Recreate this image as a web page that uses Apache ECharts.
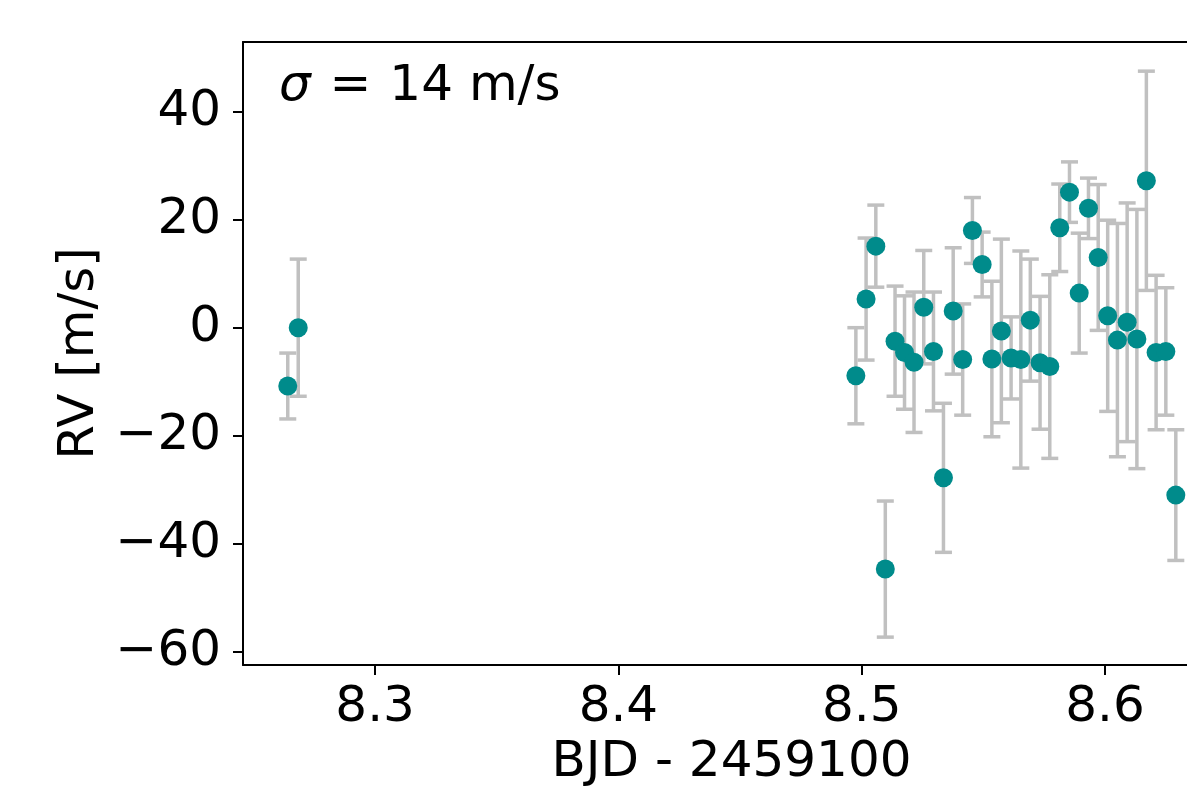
<!DOCTYPE html>
<html>
<head>
<meta charset="utf-8">
<script src="https://cdn.jsdelivr.net/npm/echarts@6/dist/echarts.min.js"></script>
<style>
html,body{margin:0;padding:0;background:#fff;}
#chart{width:1187px;height:800px;}
</style>
</head>
<body>
<div id="chart"></div>
<script>
// Data
var bjd = [8.2641, 8.2684, 8.4976, 8.5018, 8.5058, 8.5097, 8.5137, 8.5176, 8.5215, 8.5255,
           8.5295, 8.5336, 8.5376, 8.5415, 8.5455, 8.5495, 8.5535, 8.5574, 8.5614, 8.5654,
           8.5693, 8.5733, 8.5773, 8.5814, 8.5854, 8.5894, 8.5932, 8.5972, 8.6011, 8.6051,
           8.6091, 8.6131, 8.6170, 8.6210, 8.6250, 8.6291];
var rv = [-10.8, 0.0, -8.9, 5.3, 15.1, -44.7, -2.5, -4.6, -6.4, 3.8,
          -4.4, -27.8, 3.1, -5.9, 18.0, 11.7, -5.8, -0.6, -5.6, -5.9,
          1.4, -6.5, -7.2, 18.5, 25.1, 6.4, 22.1, 13.0, 2.2, -2.3,
          1.0, -2.1, 27.2, -4.6, -4.4, -31.0];
var rvErr = [6.1, 12.7, 8.9, 11.3, 7.6, 12.6, 10.2, 10.5, 13.0, 10.5,
             11.0, 13.8, 11.7, 10.3, 6.1, 6.0, 14.4, 17.0, 7.6, 20.1,
             11.3, 12.3, 17.0, 8.1, 5.6, 11.1, 5.6, 13.5, 17.7, 21.6,
             22.1, 24.0, 20.3, 14.3, 11.8, 12.1];
var xTicks = [8.3, 8.4, 8.5, 8.6];
var yTicks = [-60, -40, -20, 0, 20, 40];
var xLabel = 'BJD - 2459100';
var yLabel = 'RV [m/s]';
var sigmaValue = 14;

var pts = bjd.map(function (x, i) { return [x, rv[i]]; });
var errs = bjd.map(function (x, i) { return [x, rv[i] - rvErr[i], rv[i] + rvErr[i]]; });

var FONT = 'DejaVu Sans';
var chart = echarts.init(document.getElementById('chart'), null, {renderer: 'canvas'});

function fmtNum(v) {
  return String(v).replace('-', '\u2212');
}

var XMIN = 8.2457, XMAX = 8.6337;

var option = {
  backgroundColor: '#ffffff',
  animation: false,
  grid: {
    left: 243, top: 42, right: 0, bottom: 135,
    show: false
  },
  xAxis: [{
    type: 'value', min: XMIN, max: XMAX,
    name: xLabel, nameLocation: 'middle', nameGap: 72,
    nameTextStyle: {fontFamily: FONT, fontSize: 50, color: '#000', padding: [0, 0, 0, 33]},
    axisLine: {show: true, onZero: false, lineStyle: {color: '#000', width: 2}},
    axisTick: {show: true, inside: false, length: 10, lineStyle: {color: '#000', width: 2}, customValues: xTicks},
    axisLabel: {show: true, margin: 18, fontFamily: FONT, fontSize: 50, color: '#000', customValues: xTicks,
      formatter: function (v) { return v.toFixed(1); }},
    splitLine: {show: false}
  }, {
    type: 'value', position: 'top', min: XMIN, max: XMAX,
    axisLine: {show: true, onZero: false, lineStyle: {color: '#000', width: 2}},
    axisTick: {show: false}, axisLabel: {show: false}, splitLine: {show: false}
  }],
  yAxis: {
    type: 'value', min: -62.46, max: 52.9,
    name: yLabel, nameLocation: 'middle', nameGap: 138, nameRotate: 90,
    nameTextStyle: {fontFamily: FONT, fontSize: 50, color: '#000'},
    axisLine: {show: true, onZero: false, lineStyle: {color: '#000', width: 2}},
    axisTick: {show: true, inside: false, length: 10, lineStyle: {color: '#000', width: 2}, customValues: yTicks},
    axisLabel: {show: true, margin: 22, fontFamily: FONT, fontSize: 50, color: '#000', customValues: yTicks,
      formatter: fmtNum},
    splitLine: {show: false}
  },
  graphic: [{
    type: 'text', left: 279, top: 62, z: 100,
    style: {
      text: '{i|\u03c3}{s| = }' + sigmaValue + ' m/s',
      font: '50px "DejaVu Sans"', fill: '#000',
      rich: {
        i: {fontStyle: 'italic', fontFamily: FONT, fontSize: 50, fill: '#000'},
        s: {fontFamily: FONT, fontSize: 50, fill: '#000', padding: [0, 2, 0, 3]}
      }
    }
  }],
  series: [{
    type: 'custom',
    data: errs,
    z: 1,
    silent: true,
    renderItem: function (params, api) {
      var x = api.value(0);
      var lo = api.coord([x, api.value(1)]);
      var hi = api.coord([x, api.value(2)]);
      var cw = 8.5;
      var st = {stroke: '#c0c0c0', lineWidth: 3.5};
      return {
        type: 'group',
        children: [
          {type: 'line', shape: {x1: lo[0], y1: lo[1], x2: hi[0], y2: hi[1]}, style: st},
          {type: 'line', shape: {x1: lo[0] - cw, y1: lo[1], x2: lo[0] + cw, y2: lo[1]}, style: st},
          {type: 'line', shape: {x1: hi[0] - cw, y1: hi[1], x2: hi[0] + cw, y2: hi[1]}, style: st}
        ]
      };
    }
  }, {
    type: 'scatter',
    data: pts,
    z: 5,
    symbol: 'circle',
    symbolSize: 19,
    itemStyle: {color: '#008b8b', opacity: 1},
    silent: true
  }]
};
chart.setOption(option);
</script>
</body>
</html>
